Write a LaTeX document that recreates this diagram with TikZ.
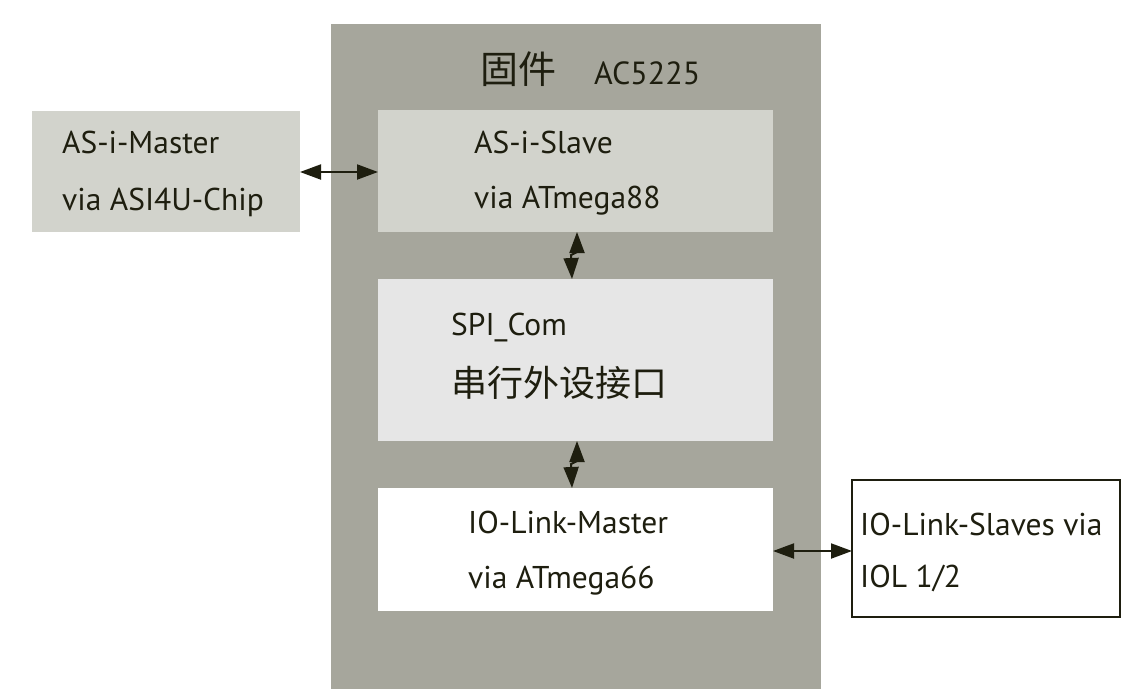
\documentclass[tikz,border=0pt]{standalone}
\usepackage{fontspec}
\setmainfont{PT Sans}
\newfontfamily\cjk{Noto Sans CJK SC}
\usetikzlibrary{arrows.meta,calc}
\definecolor{bigg}{RGB}{166,166,156}
\definecolor{lgray}{RGB}{210,211,204}
\definecolor{spig}{RGB}{230,230,230}
\definecolor{ink}{RGB}{30,30,15}
\tikzset{
  panel/.style={rectangle, inner sep=0pt, outer sep=0pt, anchor=north west, draw=none},
  lbl/.style={anchor=base west, inner sep=0pt, text=ink, font=\fontsize{31.5}{31.5}\selectfont},
  cjklbl/.style={anchor=base west, inner sep=0pt, text=ink, font=\cjk\fontsize{36}{36}\selectfont},
  link/.style={draw=ink, line width=2pt, {Triangle[length=21pt,width=15pt]}-{Triangle[length=21pt,width=15pt]}}
}
\begin{document}
\begin{tikzpicture}[x=1pt,y=-1pt]
\useasboundingbox (0,0) rectangle (1122,689);
\fill[white] (0,0) rectangle (1122,689);
% firmware frame
\node[panel, fill=bigg, minimum width=490pt, minimum height=665pt] (fw) at (331,24) {};
\node[cjklbl, font=\cjk\fontsize{38}{38}\selectfont] (fwcn) at (480,83) {固件};
\node[lbl, font=\fontsize{32}{32}\selectfont] (fwid) at (594,84) {AC5225};
% boxes
\node[panel, fill=lgray, minimum width=268pt, minimum height=121pt] (asm) at (32,111) {};
\node[panel, fill=lgray, minimum width=395pt, minimum height=122pt] (ass) at (378,110) {};
\node[panel, fill=spig, minimum width=395pt, minimum height=162pt] (spi) at (378,279) {};
\node[panel, fill=white, minimum width=395pt, minimum height=123pt] (iom) at (378,488) {};
\node[panel, fill=white, draw=ink, line width=1.5pt, minimum width=268pt, minimum height=137pt] (ios) at (852,480) {};
% texts
\node[lbl] (asm1) at (62,153) {AS-i-Master};
\node[lbl] (asm2) at (62,210) {via ASI4U-Chip};
\node[lbl] (ass1) at (474,153) {AS-i-Slave};
\node[lbl] (ass2) at (474,208) {via ATmega88};
\node[lbl] (spi1) at (451,335) {SPI\_Com};
\node[cjklbl] (spi2) at (451,396) {串行外设接口};
\node[lbl] (iom1) at (468,533) {IO-Link-Master};
\node[lbl] (iom2) at (468,588) {via ATmega66};
\node[lbl] (ios1) at (860,535) {IO-Link-Slaves via};
\node[lbl] (ios2) at (860,587) {IOL 1/2};
% connectors
\draw[link] (asm.east |- 0,172) -- (ass.west |- 0,172);
\draw[link] (iom.east |- 0,551) -- (ios.west |- 0,551);
\draw[link] ($(ass.south)+(1.5,0)$) -- ++(0,20) -- ++(-6,3) -- ($(spi.north)+(-3.5,0)$);
\draw[link] ($(spi.south)+(1.5,0)$) -- ++(0,20) -- ++(-6,3) -- ($(iom.north)+(-3.5,0)$);
\end{tikzpicture}
\end{document}
